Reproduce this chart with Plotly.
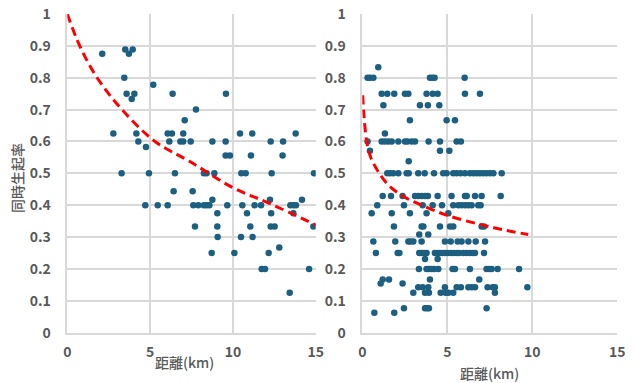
import plotly.graph_objects as go

# ---- Left panel data ----
left_x = [2.11, 3.5, 3.72, 3.95, 3.44, 3.58, 4.05, 3.89, 5.19, 6.36, 9.58, 7.77, 7.09,
          2.78, 4.17, 4.29, 4.75, 6.06, 6.32, 6.16, 7.0, 6.83, 7.0, 7.45, 8.76, 9.56,
          9.56, 9.82, 10.43, 11.17, 11.09, 12.28, 13.03, 13.0, 13.79,
          3.28, 4.93, 6.5, 8.25, 8.41, 8.88, 10.51, 10.77, 12.34, 14.9,
          6.42, 7.57,
          4.71, 5.46, 6.06, 7.61, 7.91, 8.25, 8.41, 8.58, 9.66, 10.57, 11.31, 11.7, 13.47, 13.65, 13.81,
          8.76, 12.24, 14.17,
          9.06, 10.85, 12.31, 13.65,
          7.71, 9.06, 11.05, 12.28, 12.52, 14.86,
          9.08, 10.49, 11.19, 12.8,
          8.72, 10.09, 12.16,
          11.74, 11.94, 14.6, 13.43]
left_y = [0.875, 0.889, 0.875, 0.889, 0.8, 0.75, 0.75, 0.733, 0.778, 0.75, 0.75, 0.7, 0.667,
          0.625, 0.625, 0.6, 0.583, 0.625, 0.625, 0.6, 0.625, 0.6, 0.6, 0.6, 0.6, 0.6,
          0.556, 0.556, 0.625, 0.625, 0.556, 0.6, 0.6, 0.556, 0.625,
          0.5, 0.5, 0.5, 0.5, 0.5, 0.5, 0.5, 0.5, 0.5, 0.5,
          0.444, 0.444,
          0.4, 0.4, 0.4, 0.4, 0.4, 0.4, 0.4, 0.4, 0.4, 0.4, 0.4, 0.4, 0.4, 0.4, 0.4,
          0.417, 0.417, 0.417,
          0.375, 0.375, 0.375, 0.375,
          0.333, 0.333, 0.333, 0.333, 0.333, 0.333,
          0.3, 0.3, 0.3, 0.267,
          0.25, 0.25, 0.25,
          0.2, 0.2, 0.2, 0.125]
left_trend_x = [0.0, 0.75, 1.8, 3.3, 5.3, 7.4, 10.0, 12.2, 15.0]
left_trend_y = [1.0, 0.9, 0.8, 0.7, 0.6, 0.537, 0.455, 0.406, 0.338]

# ---- Right panel data ----
right_pts = {
    0.833: [0.94],
    0.8: [0.31, 0.45, 0.65, 3.98, 4.12, 4.25, 6.02],
    0.75: [1.14, 1.47, 1.88, 2.51, 2.71, 3.78, 4.14, 4.43, 6.04, 6.92],
    0.714: [1.24, 3.39, 3.86, 4.53],
    0.667: [2.8, 4.96, 5.45],
    0.625: [1.33],
    0.6: [0.31, 1.14, 1.33, 1.53, 1.73, 2.12, 2.51, 2.65, 2.9, 3.1, 3.9, 4.57, 5.55, 5.8],
    0.571: [0.45, 4.57, 5.12],
    0.538: [2.73],
    0.5: [1.47, 1.63, 1.82, 2.12, 2.61, 2.73, 3.29, 3.67, 4.22, 4.76, 4.96, 5.35, 5.55,
          5.78, 6.04, 6.33, 6.53, 6.73, 6.92, 7.12, 7.31, 7.51, 7.71, 8.2],
    0.429: [1.2, 1.69, 2.37, 3.1, 3.29, 3.49, 3.69, 3.86, 4.43, 5.25, 6.04, 6.14, 6.63, 7.02, 8.14],
    0.4: [0.88, 2.45, 3.55, 4.14, 4.69, 5.35, 5.65, 5.84, 6.04, 6.24, 6.43, 6.82, 6.96],
    0.375: [0.55, 1.73, 2.8, 3.78, 5.06],
    0.333: [1.86, 3.49, 3.59, 4.57, 5.16, 5.35, 7.02, 7.16],
    0.308: [3.35, 3.88],
    0.286: [0.65, 1.94, 2.71, 2.84, 3.0, 3.49, 4.86, 5.2, 5.61, 5.84, 6.24, 6.67, 7.22],
    0.25: [0.8, 2.08, 2.18, 3.35, 3.49, 3.63, 3.78, 4.27, 4.43, 4.57, 4.73, 4.86, 5.02,
           5.22, 5.39, 5.55, 5.69, 5.94, 6.14, 6.33, 6.49, 6.63, 7.16],
    0.231: [3.69, 4.43],
    0.2: [3.33, 3.78, 3.92, 4.08, 4.22, 4.47, 5.31, 5.45, 6.33, 7.31, 7.47, 7.61, 7.96, 9.22],
    0.167: [1.2, 1.57, 3.98, 6.88],
    0.154: [1.08, 2.37],
    0.143: [3.29, 3.55, 3.88, 4.86, 5.55, 5.8, 6.24, 6.43, 6.63, 7.37, 7.67, 7.8, 9.71],
    0.125: [3.0, 3.69, 3.92, 4.61, 4.9, 5.06, 5.35, 7.8],
    0.077: [2.45, 3.69, 3.82, 3.92, 7.31],
    0.0625: [0.71, 1.88],
}
right_x = [x for yv, xs in right_pts.items() for x in xs]
right_y = [yv for yv, xs in right_pts.items() for x in xs]
right_trend_x = [0.02, 0.1, 0.26, 0.5, 1.0, 1.6, 2.5, 3.5, 5.0, 6.9, 8.3, 9.76]
right_trend_y = [0.745, 0.68, 0.6, 0.55, 0.5, 0.46, 0.425, 0.4, 0.368, 0.34, 0.323, 0.308]

x_ticks = [0, 5, 10, 15]
y_ticks = [0, 0.1, 0.2, 0.3, 0.4, 0.5, 0.6, 0.7, 0.8, 0.9, 1]
y_ticktext = ["0", "0.1", "0.2", "0.3", "0.4", "0.5", "0.6", "0.7", "0.8", "0.9", "1"]

DOT = "#1c5f80"
GRID = "#d9d9d9"
TXT = "#595959"
FONT = "Noto Sans CJK JP"

W, H = 635, 383
fig = go.Figure()

fig.add_trace(go.Scatter(x=left_x, y=left_y, mode="markers", xaxis="x", yaxis="y",
                         marker=dict(color=DOT, size=6.5), showlegend=False))
fig.add_trace(go.Scatter(x=left_trend_x, y=left_trend_y, mode="lines", xaxis="x", yaxis="y",
                         line=dict(color="#ff0000", width=3, dash="9px,5px", shape="spline"),
                         showlegend=False))
fig.add_trace(go.Scatter(x=right_x, y=right_y, mode="markers", xaxis="x2", yaxis="y2",
                         marker=dict(color=DOT, size=6.5), showlegend=False))
fig.add_trace(go.Scatter(x=right_trend_x, y=right_trend_y, mode="lines", xaxis="x2", yaxis="y2",
                         line=dict(color="#ff0000", width=3, dash="9px,5px", shape="spline"),
                         showlegend=False))

ydom = [1 - 332.7 / H, 1 - 14 / H]
common_x = dict(range=[0, 15], tickvals=x_ticks, showgrid=True, gridcolor=GRID, gridwidth=1.5,
                showline=True, linecolor=GRID, linewidth=1.5, zeroline=False, ticks="",
                ticklabelstandoff=6, automargin=False,
                tickfont=dict(family=FONT, size=14, color=TXT, weight="bold"))
common_y = dict(range=[0, 1], tickvals=y_ticks, ticktext=y_ticktext, showgrid=True,
                gridcolor=GRID, gridwidth=1.5, showline=True, linecolor=GRID, linewidth=1.5,
                zeroline=False, ticks="", ticklabelstandoff=12, domain=ydom, automargin=False,
                tickfont=dict(family=FONT, size=14, color=TXT, weight="bold"))

fig.update_layout(
    width=W, height=H,
    margin=dict(l=0, r=0, t=0, b=0),
    paper_bgcolor="white", plot_bgcolor="white",
    xaxis=dict(domain=[67.3 / W, 315.7 / W], anchor="y", **common_x),
    yaxis=dict(anchor="x", **common_y),
    xaxis2=dict(domain=[362.3 / W, 617.3 / W], anchor="y2", **common_x),
    yaxis2=dict(anchor="x2", **common_y),
    annotations=[
        dict(text="距離(km)", xref="paper", yref="paper", x=184 / W, y=1 - 362 / H,
             showarrow=False, xanchor="center", yanchor="middle",
             font=dict(family=FONT, size=14, color=TXT, weight=500)),
        dict(text="距離(km)", xref="paper", yref="paper", x=489 / W, y=1 - 373 / H,
             showarrow=False, xanchor="center", yanchor="middle",
             font=dict(family=FONT, size=14, color=TXT, weight=500)),
        dict(text="同時生起率", xref="paper", yref="paper", x=17 / W, y=1 - 178 / H,
             showarrow=False, xanchor="center", yanchor="middle", textangle=-90,
             font=dict(family=FONT, size=14, color=TXT, weight=500)),
    ],
)

fig.write_html("out.html", config={"displayModeBar": False},
               post_script="document.body.style.margin='0';document.body.style.padding='0';"
                           "document.body.style.overflow='hidden';")
